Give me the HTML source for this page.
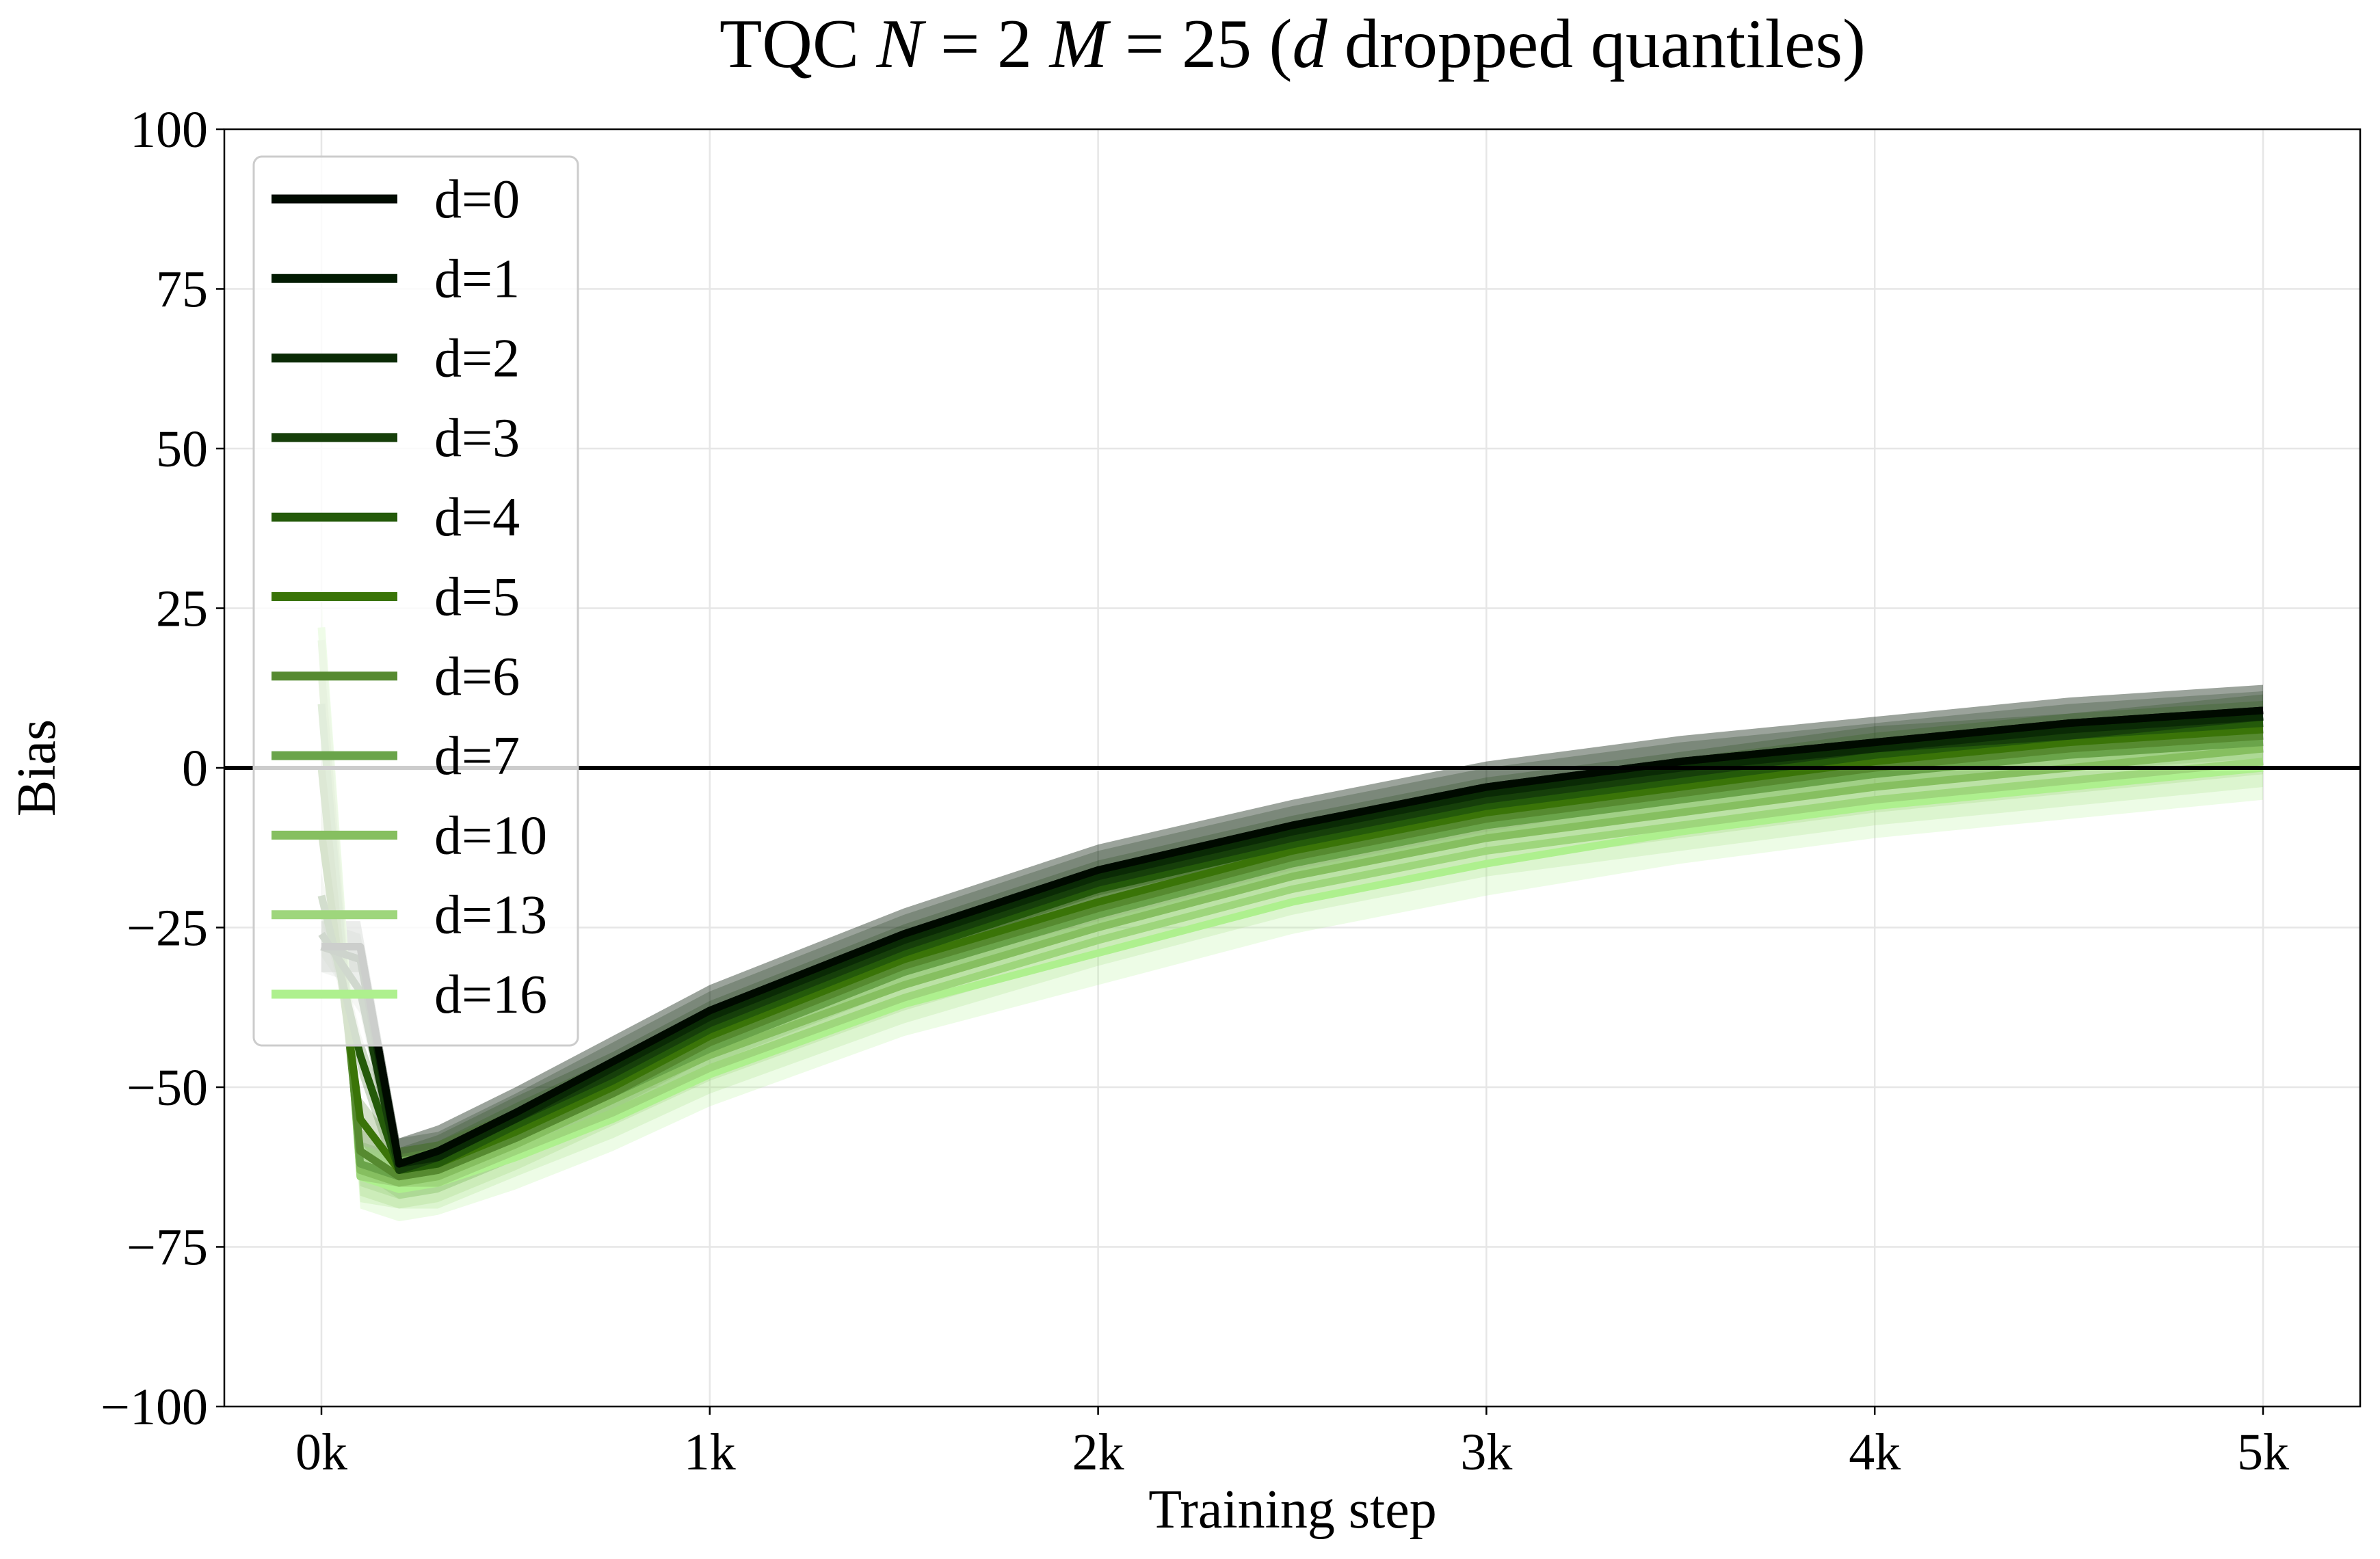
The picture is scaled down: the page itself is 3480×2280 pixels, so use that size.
<!DOCTYPE html>
<html><head><meta charset="utf-8"><style>
html,body{margin:0;padding:0;background:#fff}
svg{display:block;font-family:"Liberation Serif",serif}
</style></head><body>
<svg id="chart" width="3480" height="2280" viewBox="0 0 3480 2280" xmlns="http://www.w3.org/2000/svg">
<rect width="3480" height="2280" fill="#fff"/>
<text x="1890" y="98" font-size="102" text-anchor="middle">TQC <tspan font-style="italic">N</tspan> = 2 <tspan font-style="italic">M</tspan> = 25 (<tspan font-style="italic">d</tspan> dropped quantiles)</text>
<g id="grid"></g><g id="bands"></g><g id="lines"></g><g id="axes"></g><g id="legend"></g>
<text x="1890" y="2234" font-size="80" text-anchor="middle">Training step</text>
<text x="80" y="1123" font-size="80" text-anchor="middle" transform="rotate(-90 80 1123)">Bias</text>
</svg>
<script>
const steps=[0,100,200,300,500,750,1000,1500,2000,2500,3000,3500,4000,4500,5000];
const labels=["d=0","d=1","d=2","d=3","d=4","d=5","d=6","d=7","d=10","d=13","d=16"];
const d0=[-28,-28,-62,-60,-54,-46,-38,-26,-16,-9,-3,1,4,7,9];
const d1=[-28,-28,-62,-60,-54,-46,-38,-26,-16,-9,-3,1,4,7,9];
const d2=[-28,-30,-62,-61,-55,-47,-39,-27,-17,-10,-4,0,3,6,8];
const d3=[-26,-35,-63,-61,-55,-48,-40,-28,-18,-11,-5,-1,3,5,8];
const d4=[-20,-45,-63,-62,-56,-49,-41,-29,-19,-12,-6,-2,2,5,7];
const d5=[-10,-55,-63,-62,-57,-50,-42,-30,-21,-13,-7,-3,1,4,6];
const d6=[0,-60,-64,-63,-58,-51,-43,-31,-22,-14,-8,-4,0,3,5];
const d7=[10,-62,-64,-63,-58,-51,-44,-32,-23,-15,-9,-5,-1,2,4];
const d10=[15,-63,-65,-64,-59,-52,-45,-34,-25,-17,-11,-7,-3,0,3];
const d13=[20,-64,-65,-65,-60,-54,-47,-36,-27,-19,-13,-9,-5,-2,1];
const d16=[22,-64,-66,-65,-61,-55,-48,-37,-29,-21,-15,-10,-6,-3,0];
const series=[d0,d1,d2,d3,d4,d5,d6,d7,d10,d13,d16];
const bandHalf=[4,4,4,3.5,3.5,3.5,3.5,3.5,4,4,5];
const colors=["#000a00","#021a02","#0a2a05","#163f0a","#245a0a","#3a7408","#568a30","#6aa44a","#86bf60","#9ed67c","#aef08e"];
const yTicks=[100,75,50,25,0,-25,-50,-75,-100];
const xTicks=[0,1000,2000,3000,4000,5000];
const xTickLabels=["0k","1k","2k","3k","4k","5k"];

const L=328,R=3451,T=189,B=2057;
const X=v=>470+(v/5000)*(3309-470);
const Y=v=>T+(100-v)/200*(B-T);
const NS="http://www.w3.org/2000/svg";
function mk(tag,attrs,parent){const e=document.createElementNS(NS,tag);for(const k in attrs)e.setAttribute(k,attrs[k]);parent.appendChild(e);return e;}
const grid=document.getElementById('grid'),axes=document.getElementById('axes'),bands=document.getElementById('bands'),lines=document.getElementById('lines'),leg=document.getElementById('legend');

yTicks.forEach(t=>{
  const g=mk('line',{x1:L,x2:R,y1:Y(t),y2:Y(t),stroke:'#e6e6e6','stroke-width':2.5},grid);
  
  
  mk('line',{x1:L-12,x2:L,y1:Y(t),y2:Y(t),stroke:'#000','stroke-width':2.5},axes);
  const tx=mk('text',{x:L-24,y:Y(t)+26,'font-size':76,'text-anchor':'end'},axes);
  tx.textContent=(t<0?'\u2212':'')+Math.abs(t);
  
  
});
xTicks.forEach((t,i)=>{
  const g=mk('line',{x1:X(t),x2:X(t),y1:T,y2:B,stroke:'#e6e6e6','stroke-width':2.5},grid);
  
  
  mk('line',{x1:X(t),x2:X(t),y1:B,y2:B+12,stroke:'#000','stroke-width':2.5},axes);
  const tx=mk('text',{x:X(t),y:B+92,'font-size':76,'text-anchor':'middle'},axes);
  tx.textContent=xTickLabels[i];
  
  
});

series.forEach((s,i)=>{
  const h=bandHalf[i];
  const up=s.map((v,j)=>X(steps[j])+','+Y(v+h)).join(' ');
  const dn=s.map((v,j)=>X(steps[j])+','+Y(v-h)).reverse().join(' ');
  const b=mk('polygon',{points:up+' '+dn,fill:colors[i],'fill-opacity':0.22},bands);
  
  
});
for(let i=series.length-1;i>=0;i--){
  const s=series[i];
  const p=mk('polyline',{points:s.map((v,j)=>X(steps[j])+','+Y(v)).join(' '),fill:'none',stroke:colors[i],'stroke-width':11,'stroke-linejoin':'round'},lines);
  
  
}
const z=mk('line',{x1:L,x2:R,y1:Y(0),y2:Y(0),stroke:'#000','stroke-width':6},axes);


const fr=mk('rect',{x:L,y:T,width:R-L,height:B-T,fill:'none',stroke:'#000','stroke-width':2.5},axes);



const lb=mk('rect',{x:371,y:229,width:474,height:1300,rx:12,fill:'#fff','fill-opacity':0.8,stroke:'#cccccc','stroke-width':3},leg);


labels.forEach((lab,i)=>{
  const y=291+i*116.3;
  const g=mk('g',{},leg);
  
  
  mk('line',{x1:397,x2:581,y1:y,y2:y,stroke:colors[i],'stroke-width':13},g);
  const t=mk('text',{x:635,y:y+27,'font-size':80},g);
  t.textContent=lab;
});
</script>
</body></html>
